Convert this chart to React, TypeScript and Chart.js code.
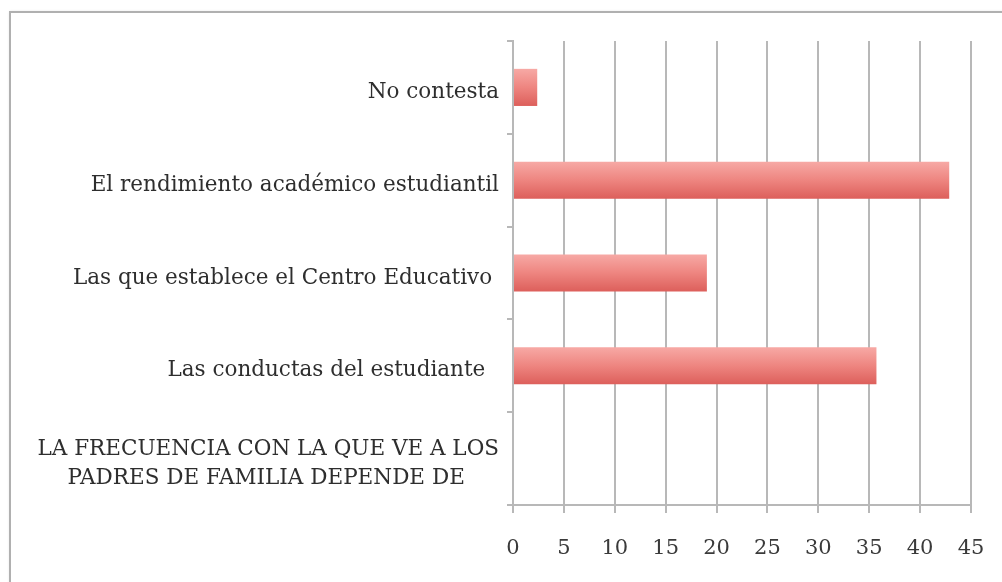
import React, { useEffect, useRef } from "react";
import { Chart, registerables } from "chart.js";

Chart.register(...registerables);

const categories: (string | string[])[] = [
  "No contesta",
  "El rendimiento académico estudiantil",
  "Las que establece el Centro Educativo ",
  "Las conductas del estudiante  ",
  ["LA FRECUENCIA CON LA QUE VE A LOS", "PADRES DE FAMILIA DEPENDE DE     "],
];
const values: (number | null)[] = [2.38, 42.86, 19.05, 35.71, null];
const xMin = 0;
const xMax = 45;
const xStep = 5;

const FONT = "'DejaVu Serif', serif";

export default function App() {
  const ref = useRef<HTMLCanvasElement | null>(null);

  useEffect(() => {
    if (!ref.current) return;
    const chart = new Chart(ref.current, {
      type: "bar",
      data: {
        labels: categories,
        datasets: [
          {
            data: values,
            categoryPercentage: 1,
            barPercentage: 0.4,
            borderWidth: 0,
            backgroundColor: (ctx: any) => {
              const c = ctx.chart;
              const y = c.scales?.y;
              if (!y || ctx.dataIndex === undefined) return "#e87470";
              const center = y.getPixelForValue(ctx.dataIndex);
              if (!Number.isFinite(center)) return "#e87470";
              const half = 19;
              const g = c.ctx.createLinearGradient(0, center - half, 0, center + half);
              g.addColorStop(0, "#f7aaa6");
              g.addColorStop(0.5, "#ee8580");
              g.addColorStop(1, "#dc5e5a");
              return g;
            },
          },
        ],
      },
      options: {
        indexAxis: "y",
        animation: false,
        responsive: false,
        maintainAspectRatio: false,
        layout: { padding: { left: 0, right: 31, top: 41, bottom: 0 } },
        plugins: { legend: { display: false }, tooltip: { enabled: false } },
        scales: {
          x: {
            min: xMin,
            max: xMax,
            ticks: {
              stepSize: xStep,
              color: "#3a3a3a",
              font: { family: FONT, size: 21 },
              padding: 23,
            },
            grid: {
              color: "#b8b8b8",
              lineWidth: 2,
              tickLength: 8,
              drawTicks: true,
            },
            border: { color: "#b8b8b8", width: 2 },
            afterFit: (s: any) => {
              s.height = 77;
              s.paddingLeft = 0;
              s.paddingRight = 0;
            },
          },
          y: {
            ticks: {
              color: "#2e2e2e",
              font: { family: FONT, size: 21.5, lineHeight: 1.36 },
              padding: 8,
              labelOffset: 5,
            },
            grid: {
              drawOnChartArea: false,
              drawTicks: true,
              tickLength: 6,
              offset: true,
              color: "#b8b8b8",
              lineWidth: 2,
            },
            border: { color: "#b8b8b8", width: 2 },
            afterFit: (s: any) => {
              s.width = 513;
              s.paddingTop = 0;
              s.paddingBottom = 0;
            },
          },
        },
      },
    });
    return () => chart.destroy();
  }, []);

  return (
    <div
      style={{
        position: "fixed",
        left: 0,
        top: 0,
        width: 1002,
        height: 582,
        background: "#ffffff",
        overflow: "hidden",
      }}
    >
      <div
        style={{
          position: "absolute",
          left: 9,
          top: 11,
          width: 1100,
          height: 700,
          border: "2px solid #b0b0b0",
          boxShadow: "1px 1px 3px rgba(0,0,0,0.18)",
          background: "#ffffff",
        }}
      />
      <canvas
        ref={ref}
        width={1002}
        height={582}
        style={{ position: "absolute", left: 0, top: 0, width: 1002, height: 582 }}
      />
    </div>
  );
}
